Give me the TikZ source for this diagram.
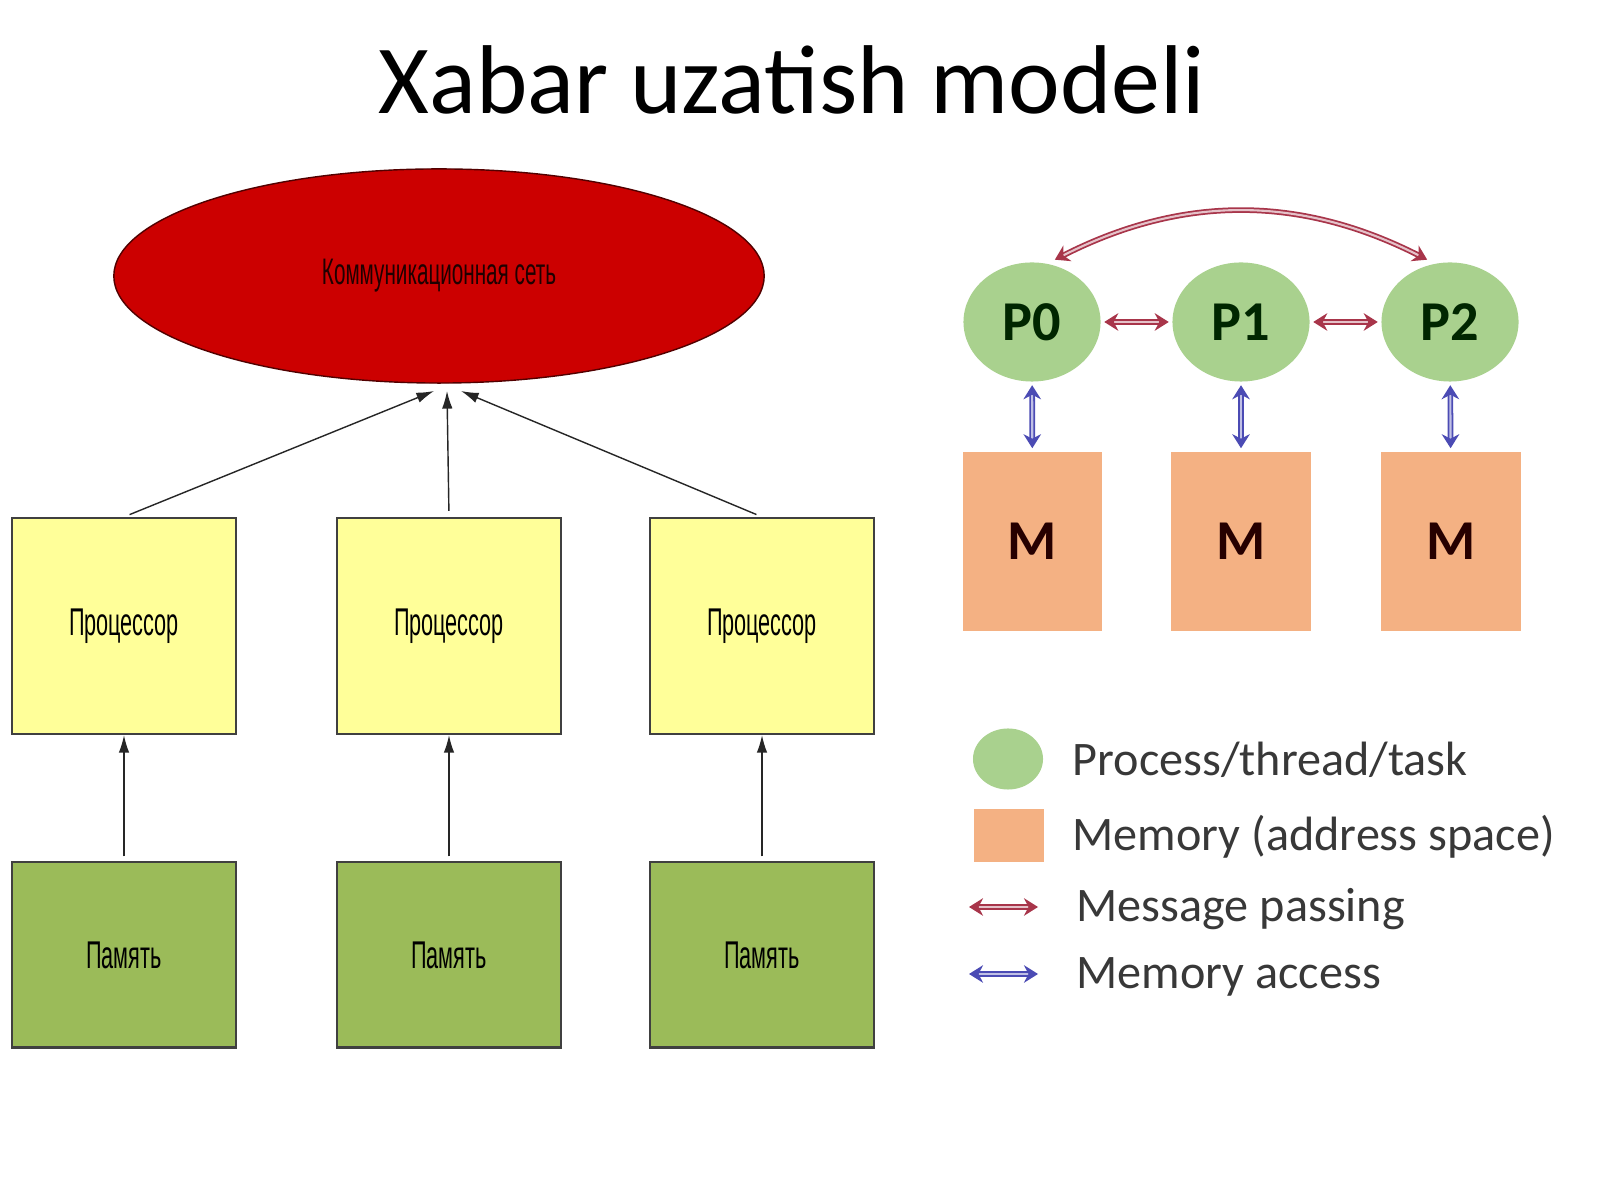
\documentclass[tikz,border=0pt]{standalone}
\usepackage{fontspec}
\setmainfont{Carlito}
\newfontfamily\narrowfont[FakeStretch=0.56]{Liberation Sans}
\usepackage{tikz}
\usetikzlibrary{shapes.geometric, arrows.meta, positioning}

\definecolor{netred}{HTML}{CC0000}
\definecolor{procyellow}{HTML}{FFFF99}
\definecolor{memgreen}{HTML}{9BBB59}
\definecolor{procgreen}{HTML}{A9D18E}
\definecolor{memorange}{HTML}{F4B183}
\definecolor{msgred}{HTML}{A8354A}
\definecolor{accblue}{HTML}{4B4BB4}

\tikzset{
	netnode/.style={ellipse, draw=black!60!netred, line width=0.4pt, fill=netred, minimum width=6.5cm, minimum height=2.14cm, inner sep=0pt, text=black!85!netred, font=\narrowfont\fontsize{10.5}{12}\selectfont},
	procbox/.style={draw=black!75, line width=0.6pt, fill=procyellow, minimum width=2.23cm, minimum height=2.16cm, inner sep=0pt, font=\narrowfont\fontsize{11}{13}\selectfont},
	membox/.style={procbox, fill=memgreen, minimum height=1.85cm},
	feed/.style={draw=black!85, line width=0.4pt, -{Latex[length=5pt, width=3pt]}},
	proc/.style={ellipse, fill=procgreen, minimum width=1.37cm, minimum height=1.19cm, inner sep=0pt, text=black!85!green, font=\bfseries\fontsize{16}{18}\selectfont},
	mem/.style={fill=memorange, minimum width=1.39cm, minimum height=1.79cm, inner sep=0pt, text=black!85!red, font=\bfseries\fontsize{16}{18}\selectfont},
	msg/.style={draw=msgred, double=msgred!30, double distance=0.6pt, line width=0.5pt, {Stealth[length=4pt, width=5pt]}-{Stealth[length=4pt, width=5pt]}},
	acc/.style={draw=accblue, double=accblue!35, double distance=0.6pt, line width=0.5pt, {Stealth[length=4pt, width=5pt]}-{Stealth[length=4pt, width=5pt]}},
	legend/.style={anchor=base west, inner sep=0pt, text=black!78, font=\fontsize{13.7}{16}\selectfont}
}

\begin{document}
\begin{tikzpicture}[x=0.01cm, y=0.01cm]

	% Dimensions
	\def\colA{124}
	\def\colB{449}
	\def\colC{762}
	\def\procrow{574}
	\def\memrow{245}
	\def\prow{878}
	\def\mrow{658.5}

	% Page
	\useasboundingbox[fill=white] (0,0) rectangle (1600,1200);

	% Title
	\node[font=\fontsize{27.8}{32}\selectfont] (title) at (792, 1120) {Xabar uzatish modeli};

	% Communication network
	\node[netnode] (net) at (439, 924) {Коммуникационная сеть};

	% Processors
	\node[procbox] (procA) at (\colA, \procrow) {Процессор};
	\node[procbox] (procB) at (\colB, \procrow) {Процессор};
	\node[procbox] (procC) at (\colC, \procrow) {Процессор};

	% Memories
	\node[membox] (memA) at (\colA, \memrow) {Память};
	\node[membox] (memB) at (\colB, \memrow) {Память};
	\node[membox] (memC) at (\colC, \memrow) {Память};

	% Memory to processor
	\draw[feed, shorten <=0.05cm] (memA) -- (procA);
	\draw[feed, shorten <=0.05cm] (memB) -- (procB);
	\draw[feed, shorten <=0.05cm] (memC) -- (procC);

	% Processor to network
	\coordinate (inA) at (434, 809);
	\coordinate (inB) at (447, 809);
	\coordinate (inC) at (461, 809);
	\draw[feed, shorten <=0.06cm] (procA.north) -- (inA);
	\draw[feed, shorten <=0.06cm] (procB.north) -- (inB);
	\draw[feed, shorten <=0.06cm] (procC.north) -- (inC);

	% Processes
	\node[proc] (pA) at (1032, \prow) {P0};
	\node[proc] (pB) at (1241, \prow) {P1};
	\node[proc] (pC) at (1450, \prow) {P2};

	% Address spaces
	\node[mem] (mA) at (1032.5, \mrow) {M};
	\node[mem] (mB) at (1241, \mrow) {M};
	\node[mem] (mC) at (1451, \mrow) {M};

	% Message passing
	\draw[msg, shorten <=0.03cm, shorten >=0.03cm] (pA) -- (pB);
	\draw[msg, shorten <=0.03cm, shorten >=0.03cm] (pB) -- (pC);
	\draw[msg, shorten <=0.08cm, shorten >=0.08cm] (pA.75) to[bend left=27] (pC.105);

	% Memory access
	\draw[acc, shorten <=0.03cm, shorten >=0.03cm] (pA) -- (mA);
	\draw[acc, shorten <=0.03cm, shorten >=0.03cm] (pB) -- (mB);
	\draw[acc, shorten <=0.03cm, shorten >=0.03cm] (pC) -- (mC);

	% Legend
	\node[proc, minimum width=0.7cm, minimum height=0.61cm] (keyproc) at (1008, 441) {};
	\node[fill=memorange, minimum width=0.7cm, minimum height=0.53cm, inner sep=0pt] (keymem) at (1009, 364.5) {};
	\coordinate (keymsgA) at (969, 293);
	\coordinate (keymsgB) at (1038, 293);
	\draw[msg] (keymsgA) -- (keymsgB);
	\coordinate (keyaccA) at (969, 226);
	\coordinate (keyaccB) at (1038, 226);
	\draw[acc] (keyaccA) -- (keyaccB);
	\node[legend] (txtproc) at (1072, 424) {Process/thread/task};
	\node[legend] (txtmem) at (1072, 349) {Memory (address space)};
	\node[legend] (txtmsg) at (1076, 278) {Message passing};
	\node[legend] (txtacc) at (1076, 211) {Memory access};

\end{tikzpicture}
\end{document}
